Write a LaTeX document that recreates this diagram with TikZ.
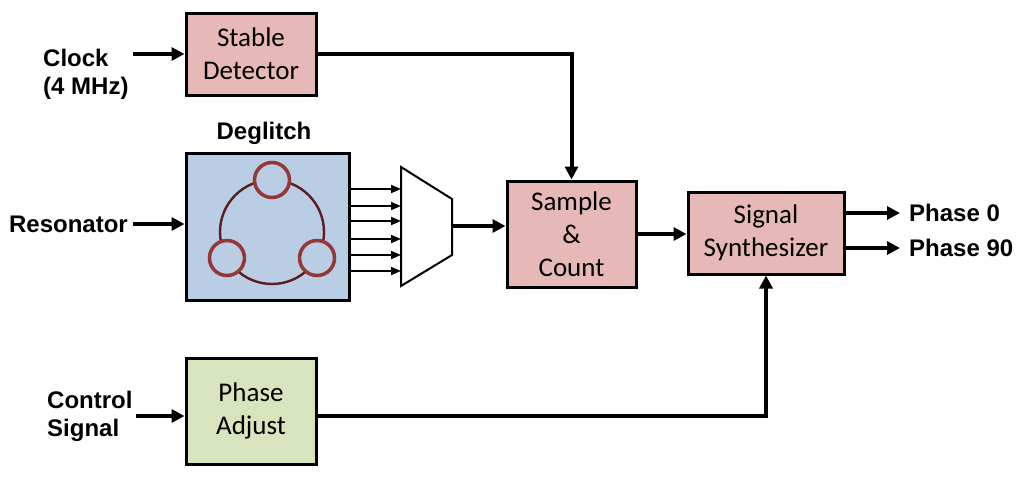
\documentclass[tikz,border=0pt]{standalone}
\usepackage{fontspec}
\setmainfont{Carlito}
\newfontfamily\lblfont{Liberation Sans}
\usetikzlibrary{arrows.meta,calc}
\definecolor{boxpink}{HTML}{E6B9B8}
\definecolor{boxblue}{HTML}{B9CDE5}
\definecolor{boxgreen}{HTML}{D7E4BD}
\definecolor{ringred}{HTML}{953735}
\definecolor{arcred}{HTML}{5A1E1C}
\begin{document}
\begin{tikzpicture}[x=1pt,y=-1pt,
  blk/.style={draw,line width=3pt,align=center,inner sep=0pt,font=\fontsize{27}{33}\selectfont},
  lbl/.style={font=\lblfont\bfseries\fontsize{24}{28}\selectfont,align=left,inner sep=0pt},
  thk/.style={line width=4pt,-{Triangle[length=13pt,width=13pt]}},
  thn/.style={line width=1.8pt,-{Triangle[length=10pt,width=8pt]}}]
\useasboundingbox (0,0) rectangle (1024,477);
\node[blk,fill=boxpink,minimum width=130pt,minimum height=82pt] (stab) at (251,54) {Stable\\Detector};
\node[blk,fill=boxblue,minimum width=163pt,minimum height=147pt] (deg) at (267.5,226.5) {};
\node[blk,fill=boxpink,minimum width=129pt,minimum height=106pt] (samp) at (571.5,234) {Sample\\\&\\Count};
\node[blk,fill=boxpink,minimum width=156pt,minimum height=82pt] (synth) at (766,233) {Signal\\Synthesizer};
\node[blk,fill=boxgreen,minimum width=130pt,minimum height=106pt] (padj) at (251,411) {Phase\\Adjust};
\node[lbl,anchor=west] (ck) at (43,74) {Clock\\(4 MHz)};
\node[lbl,anchor=east] (res) at (128,224) {Resonator};
\node[lbl,anchor=west] (ctl) at (47,416) {Control\\Signal};
\node[lbl] (dgl) at (264,133) {Deglitch};
\node[lbl,anchor=west] (p0) at (909,213) {Phase 0};
\node[lbl,anchor=west] (p90) at (909,248) {Phase 90};
\draw[arcred,line width=2.4pt] (272,232) circle (52);
\foreach \a in {-90,30,150}
  \draw[ringred,line width=3.5pt,fill=boxblue] ($(272,232)+(\a:52)$) circle (17.5);
\coordinate (muxin) at (401,226);
\coordinate (muxout) at (452,226);
\draw[line width=2pt,fill=white] (401,167) -- (452,199) -- (452,255) -- (401,286) -- cycle;
\foreach \y in {189,206,221,239,255,271}
  \draw[thn] (deg.east |- 0,\y) -- (muxin |- 0,\y);
\draw[thk] (133,0 |- stab.west) -- (stab.west);
\draw[thk] ([xshift=5pt]res.east) -- (res.east -| deg.west);
\draw[thk] ([xshift=3pt]ctl.east) -- (ctl.east -| padj.west);
\draw[thk] (stab.east) -| (samp.north);
\draw[thk] (muxout) -- (muxout -| samp.west);
\draw[thk] (samp.east) -- (samp.east -| synth.west);
\draw[thk] (ctl -| padj.east) -| (synth.south);
\draw[thk] (synth.east |- p0.west) -- ([xshift=-9pt]p0.west);
\draw[thk] (synth.east |- p90.west) -- ([xshift=-9pt]p90.west);
\end{tikzpicture}
\end{document}
